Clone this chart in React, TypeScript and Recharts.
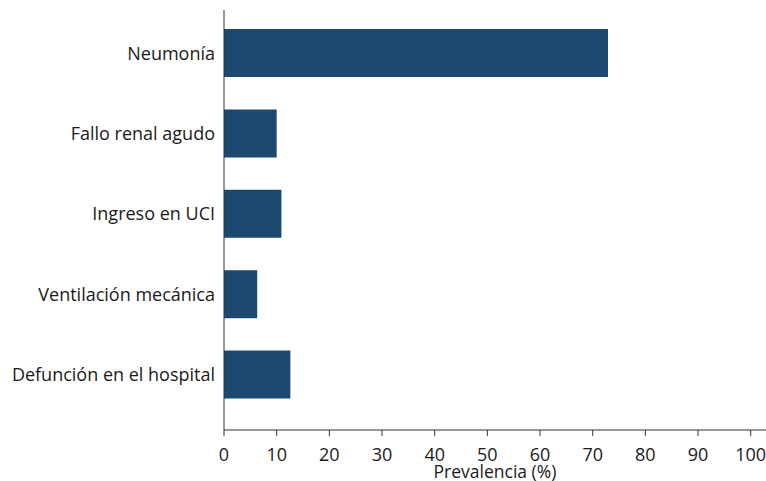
import React from "react";
import { BarChart, Bar, XAxis, YAxis } from "recharts";

const categories = [
  "Neumonía",
  "Fallo renal agudo",
  "Ingreso en UCI",
  "Ventilación mecánica",
  "Defunción en el hospital",
];
const prevalence = [72.9, 10.0, 10.9, 6.3, 12.6];
const xTicks = [0, 10, 20, 30, 40, 50, 60, 70, 80, 90, 100];

const data = categories.map((name, i) => ({ name, value: prevalence[i] }));

const FONT = "'Open Sans', sans-serif";

export default function App() {
  return (
    <div style={{ position: "absolute", left: 0, top: 0, background: "#fff" }}>
      <BarChart
        width={766}
        height={481}
        data={data}
        layout="vertical"
        margin={{ top: 10, right: 0, bottom: 0, left: 0 }}
      >
        <XAxis
          type="number"
          domain={[0, 102.9]}
          ticks={xTicks}
          allowDataOverflow
          tick={{ fill: "#1a1a1a", fontSize: 18, fontFamily: FONT }}
          tickSize={6}
          tickMargin={12}
          height={51}
          stroke="#333"
          axisLine={{ stroke: "#333" }}
          tickLine={{ stroke: "#333" }}
          label={{
            value: "Prevalencia (%)",
            position: "insideBottom",
            offset: 3,
            fill: "#1a1a1a",
            fontSize: 17.5,
            fontFamily: FONT,
          }}
        />
        <YAxis
          type="category"
          dataKey="name"
          width={224}
          tickLine={false}
          tickSize={0}
          tickMargin={9}
          padding={{ top: 3, bottom: 15 }}
          axisLine={{ stroke: "#333" }}
          tick={{ fill: "#1a1a1a", fontSize: 18, fontFamily: FONT }}
        />
        <Bar dataKey="value" fill="#1d4870" barSize={48} isAnimationActive={false} />
      </BarChart>
    </div>
  );
}
